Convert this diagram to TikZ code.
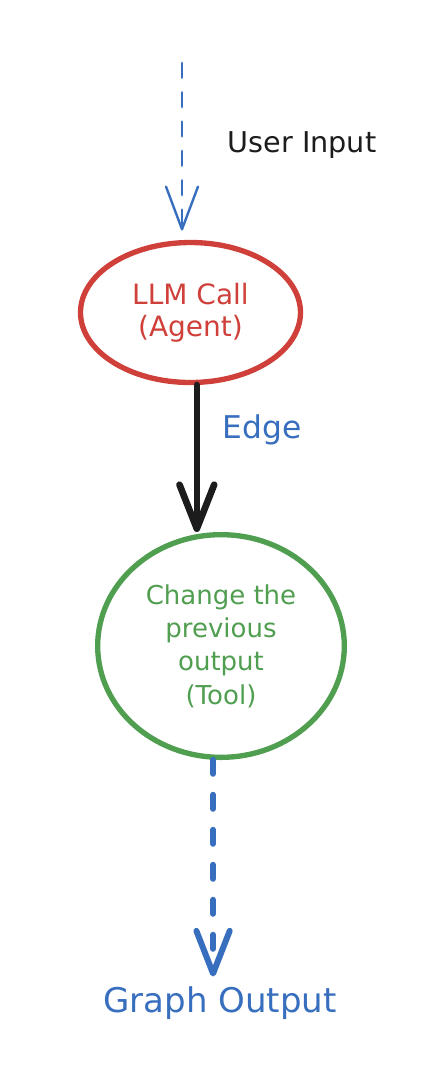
\documentclass[tikz,border=0pt]{standalone}
\usepackage{fontspec}
\setmainfont{DejaVu Sans}
\usetikzlibrary{shapes.geometric,arrows.meta,calc}

\definecolor{llmred}{RGB}{208,64,58}
\definecolor{toolgreen}{RGB}{80,158,80}
\definecolor{flowblue}{RGB}{56,110,190}
\definecolor{inkblack}{RGB}{28,28,28}

\tikzset{
  llmnode/.style={ellipse, draw=llmred, line width=4pt, text=llmred,
    minimum width=165pt, minimum height=105pt, align=center,
    font=\fontsize{21}{24}\selectfont},
  toolnode/.style={ellipse, draw=toolgreen, line width=4pt, text=toolgreen,
    minimum width=185pt, minimum height=167pt, align=center,
    font=\fontsize{19.5}{25}\selectfont},
  inflow/.style={draw=flowblue, line width=2pt, line cap=round,
    dash pattern=on 11pt off 11pt,
    -{Straight Barb[length=32pt,width=24pt,line width=1.8pt,round]}},
  edgeflow/.style={draw=inkblack, line width=5pt, line cap=round,
    -{Straight Barb[length=33pt,width=26pt,line width=5pt,round]}},
  outflow/.style={draw=flowblue, line width=4.5pt, line cap=round,
    dash pattern=on 10.5pt off 15.75pt,
    -{Straight Barb[length=32pt,width=25pt,line width=4.5pt,round]}},
}

\begin{document}
\begin{tikzpicture}[x=0.75pt, y=-0.75pt]
\useasboundingbox (0,0) rectangle (442,1072);

\coordinate (in) at (182,63);
\node[llmnode] (llm) at (190.5,312.5) {LLM Call\\(Agent)};
\node[toolnode] (tool) at (221,646) {Change the\\previous\\output\\(Tool)};
\node[text=inkblack, font=\fontsize{21.5}{24}\selectfont] (userin) at (302,145) {User Input};
\node[text=flowblue, font=\fontsize{23.5}{26}\selectfont] (edgelbl) at (262,430) {Edge};
\node[text=flowblue, font=\fontsize{25.5}{28}\selectfont] (graphout) at (220,1003) {Graph Output};

\draw[inflow, shorten >=7pt] (in) -- (in |- llm.north);
\draw[edgeflow] (llm.-85) -- (llm.-85 |- tool.north);
\draw[outflow, shorten >=4pt] (tool.-94) -- (tool.-94 |- graphout.north);

\end{tikzpicture}
\end{document}
